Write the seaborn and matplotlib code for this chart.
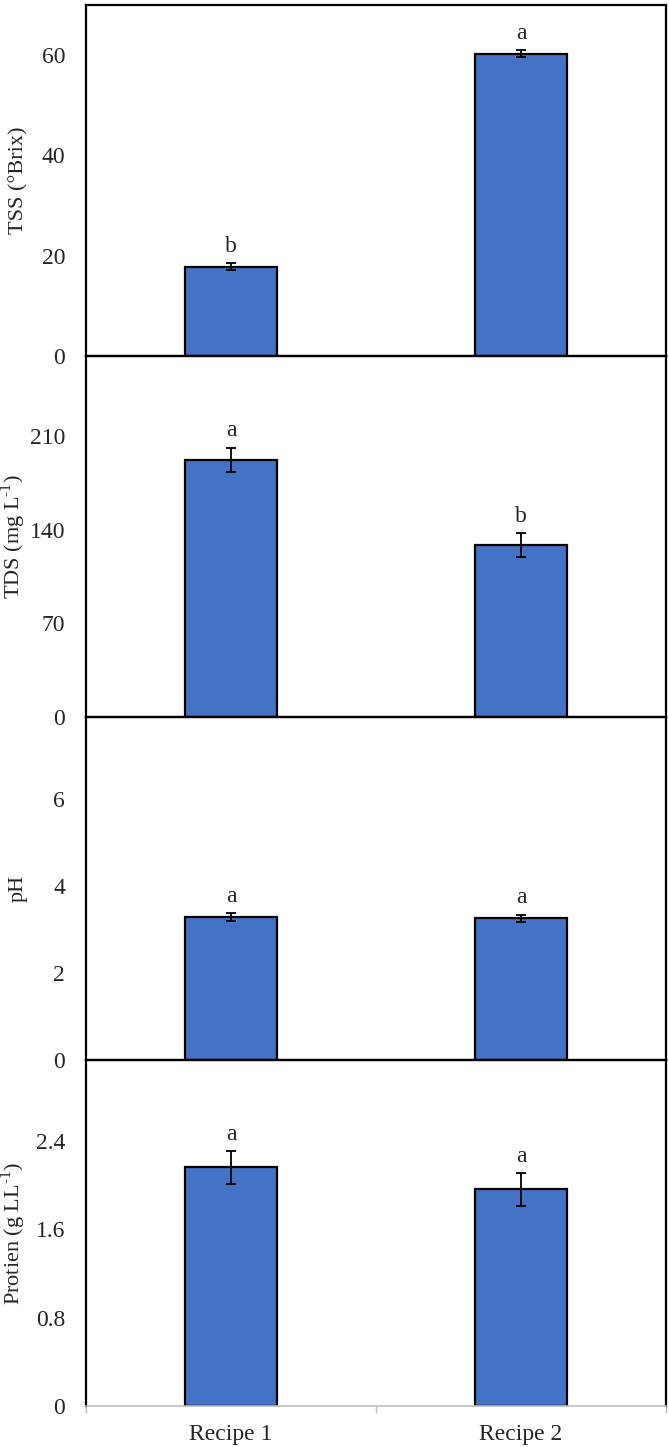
import matplotlib
matplotlib.use("Agg")
import matplotlib.pyplot as plt
import seaborn as sns
import pandas as pd

# ---------------- data ----------------
categories = ["Recipe 1", "Recipe 2"]

tss_mean = [17.8, 60.3]
tss_err = [0.65, 0.65]
tss_letters = ["b", "a"]

tds_mean = [192.5, 128.8]
tds_err = [9.0, 9.0]
tds_letters = ["a", "b"]

ph_mean = [3.30, 3.26]
ph_err = [0.09, 0.09]
ph_letters = ["a", "a"]

protein_mean = [2.16, 1.96]
protein_err = [0.15, 0.15]
protein_letters = ["a", "a"]

tss_ticks = [0, 20, 40, 60]
tss_ticklabels = ["0", "20", "40", "60"]
tds_ticks = [0, 70, 140, 210]
tds_ticklabels = ["0", "70", "140", "210"]
ph_ticks = [0, 2, 4, 6]
ph_ticklabels = ["0", "2", "4", "6"]
protein_ticks = [0, 0.8, 1.6, 2.4]
protein_ticklabels = ["0", "0.8", "1.6", "2.4"]

ylabels = ["TSS (°Brix)",
           "TDS (mg L$^{\\mathregular{\u2010}1}$)",
           "pH",
           "Protien (g LL$^{\\mathregular{\u2010}1}$)"]

# ---------------- style ----------------
sns.set_theme(style="white")
plt.rcParams["font.family"] = ["Liberation Serif", "DejaVu Serif"]
plt.rcParams["mathtext.fontset"] = "custom"
plt.rcParams["mathtext.rm"] = "Liberation Serif"

BAR_COLOR = "#4472C4"
W, H = 669, 1447
fig = plt.figure(figsize=(W / 100, H / 100), dpi=100)

left_px, right_px = 86, 666
panels = [
    (5, 356, tss_mean, tss_err, tss_letters, tss_ticks, tss_ticklabels, 70),
    (356, 717, tds_mean, tds_err, tds_letters, tds_ticks, tds_ticklabels, 270),
    (717, 1060, ph_mean, ph_err, ph_letters, ph_ticks, ph_ticklabels, 7.9),
    (1060, 1406, protein_mean, protein_err, protein_letters, protein_ticks,
     protein_ticklabels, 3.13),
]

for i, (top, bot, mean, err, letters, ticks, ticklabels, ymax) in enumerate(panels):
    ax = fig.add_axes([left_px / W, 1 - bot / H, (right_px - left_px) / W, (bot - top) / H])
    ax.patch.set_alpha(0)
    df = pd.DataFrame({"Recipe": categories, "Value": mean})
    sns.barplot(data=df, x="Recipe", y="Value", ax=ax, width=0.32,
                color=BAR_COLOR, saturation=1, edgecolor="black",
                linewidth=1.6, errorbar=None, zorder=2)
    centers = [p.get_x() + p.get_width() / 2 for p in ax.patches]
    ax.errorbar(centers, mean, yerr=err, fmt="none", ecolor="black",
                elinewidth=1.3, capsize=3.5, capthick=1.3, zorder=3)
    for c, m, e, lab in zip(centers, mean, err, letters):
        ax.annotate(lab, xy=(c, m + e), xytext=(0, 8), textcoords="offset points",
                    ha="center", va="baseline", fontsize=17)
    ax.set_xlim(-0.5, 1.5)
    ax.set_ylim(0, ymax)
    ax.set_yticks(ticks)
    ax.set_yticklabels(ticklabels)
    ax.tick_params(axis="y", length=0, pad=15, labelsize=17)
    ax.set_ylabel(ylabels[i], fontsize=16)
    ax.yaxis.set_label_coords(-0.1, 0.5)
    for s in ax.spines.values():
        s.set_visible(True)
        s.set_color("black")
        s.set_linewidth(1.6)
    if i < 3:
        ax.set_xticks([])
        ax.set_xlabel("")
    else:
        ax.set_xlabel("")
        ax.tick_params(axis="x", which="major", length=0, pad=13, labelsize=17)
        ax.set_xticks([-0.5, 0.5, 1.5], minor=True)
        ax.tick_params(axis="x", which="minor", length=5, width=1,
                       color="#bfbfbf", direction="out", bottom=True)
        ax.spines["bottom"].set_color("#bfbfbf")
        ax.spines["bottom"].set_linewidth(1.2)

fig.savefig("out.png", dpi=100)
